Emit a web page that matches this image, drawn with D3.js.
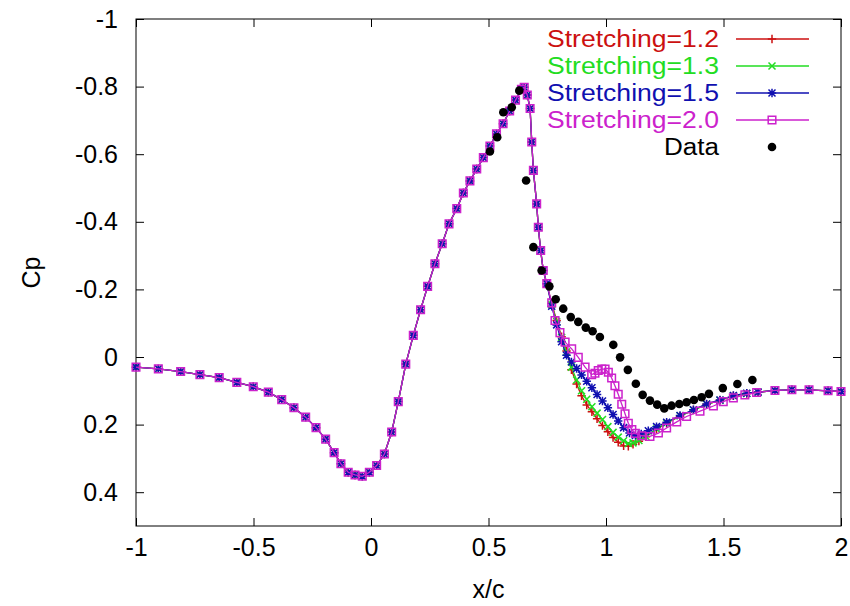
<!DOCTYPE html>
<html><head><meta charset="utf-8">
<script src="https://cdn.jsdelivr.net/npm/d3@7"></script>
<style>body{margin:0;background:#fff}svg{display:block}</style>
</head><body><svg id="c" width="850" height="606"></svg>
<script>
// ---- data ----
const xTicks = [-1, -0.5, 0, 0.5, 1, 1.5, 2];
const yTicks = [-1, -0.8, -0.6, -0.4, -0.2, 0, 0.2, 0.4];
const seriesNames = ["Stretching=1.2", "Stretching=1.3", "Stretching=1.5", "Stretching=2.0"];
// shared part of all four computed curves (x/c, Cp)
const commonPart = [[-1.0,0.030],[-0.905,0.035],[-0.810,0.043],[-0.728,0.052],[-0.646,0.061],[-0.571,0.075],[-0.501,0.088],[-0.437,0.104],[-0.380,0.126],[-0.328,0.150],[-0.278,0.178],[-0.234,0.209],[-0.193,0.243],[-0.157,0.283],[-0.128,0.316],[-0.097,0.341],[-0.068,0.349],[-0.037,0.353],[-0.007,0.341],[0.024,0.321],[0.057,0.287],[0.088,0.222],[0.116,0.132],[0.148,0.021],[0.180,-0.064],[0.211,-0.140],[0.241,-0.209],[0.272,-0.276],[0.303,-0.335],[0.332,-0.394],[0.365,-0.439],[0.393,-0.485],[0.421,-0.521],[0.450,-0.556],[0.478,-0.590],[0.506,-0.624],[0.534,-0.660],[0.562,-0.690],[0.590,-0.728],[0.615,-0.760],[0.640,-0.792],[0.652,-0.798],[0.665,-0.775],[0.677,-0.735],[0.684,-0.636],[0.691,-0.552],[0.705,-0.453],[0.712,-0.384],[0.722,-0.315],[0.733,-0.256],[0.748,-0.217]];
const s12Part = [[0.769,-0.158],[0.790,-0.108],[0.811,-0.060],[0.832,-0.018],[0.853,0.038],[0.875,0.080],[0.896,0.115],[0.918,0.142],[0.940,0.162],[0.962,0.183],[0.985,0.203],[1.008,0.221],[1.030,0.238],[1.052,0.252],[1.075,0.263],[1.095,0.264],[1.115,0.258],[1.140,0.249],[1.170,0.236],[1.215,0.214],[1.258,0.196],[1.315,0.175],[1.372,0.157],[1.428,0.140],[1.485,0.128],[1.542,0.115],[1.599,0.108],[1.647,0.104]];
const s13Part = [[0.769,-0.155],[0.790,-0.105],[0.811,-0.058],[0.832,-0.015],[0.853,0.030],[0.875,0.068],[0.896,0.100],[0.918,0.125],[0.940,0.147],[0.962,0.166],[0.985,0.185],[1.008,0.206],[1.030,0.223],[1.052,0.237],[1.075,0.248],[1.095,0.256],[1.115,0.254],[1.140,0.247],[1.170,0.235],[1.215,0.213],[1.258,0.195],[1.315,0.174],[1.372,0.157],[1.428,0.140],[1.485,0.128],[1.542,0.115],[1.599,0.108],[1.647,0.104]];
const s15Part = [[0.769,-0.150],[0.790,-0.095],[0.811,-0.045],[0.832,-0.005],[0.853,0.015],[0.875,0.034],[0.896,0.053],[0.918,0.072],[0.940,0.091],[0.962,0.111],[0.985,0.130],[1.008,0.150],[1.030,0.170],[1.052,0.189],[1.075,0.209],[1.100,0.225],[1.125,0.232],[1.150,0.228],[1.180,0.218],[1.215,0.206],[1.258,0.193],[1.315,0.173],[1.372,0.156],[1.428,0.139],[1.485,0.127],[1.542,0.114],[1.599,0.107],[1.647,0.104]];
const s20Part = [[0.769,-0.160],[0.783,-0.108],[0.804,-0.072],[0.826,-0.044],[0.854,-0.024],[0.882,0.001],[0.911,0.030],[0.939,0.052],[0.953,0.048],[0.967,0.040],[0.982,0.036],[0.996,0.036],[1.010,0.045],[1.024,0.062],[1.038,0.085],[1.052,0.110],[1.067,0.140],[1.081,0.168],[1.095,0.196],[1.110,0.215],[1.125,0.226],[1.152,0.233],[1.187,0.235],[1.223,0.225],[1.258,0.210],[1.301,0.192],[1.343,0.176],[1.400,0.160],[1.457,0.145],[1.499,0.132],[1.542,0.121],[1.591,0.112],[1.641,0.105]];
const farTail = [[1.719,0.099],[1.791,0.097],[1.864,0.097],[1.945,0.100],[2.0,0.102]];
const expData = [[0.506,-0.608],[0.537,-0.650],[0.563,-0.724],[0.599,-0.739],[0.631,-0.788],[0.660,-0.522],[0.691,-0.325],[0.726,-0.256],[0.759,-0.209],[0.786,-0.171],[0.818,-0.143],[0.850,-0.118],[0.882,-0.104],[0.914,-0.087],[0.943,-0.076],[0.974,-0.059],[1.031,-0.036],[1.060,0.001],[1.093,0.038],[1.127,0.079],[1.156,0.112],[1.187,0.129],[1.218,0.141],[1.248,0.152],[1.279,0.144],[1.312,0.139],[1.343,0.134],[1.374,0.127],[1.407,0.119],[1.438,0.109],[1.497,0.092],[1.559,0.080],[1.623,0.068]];

// ---- styles ----
const colors = ["#cc1010", "#22dd22", "#1010b0", "#cc22cc"];
const markerShapes = ["plus", "cross", "star", "square"];
const FONT = "'Liberation Sans', Arial, sans-serif";

const series = [s12Part, s13Part, s15Part, s20Part].map((p, i) => ({
  name: seriesNames[i], color: colors[i], shape: markerShapes[i],
  values: commonPart.concat(p, farTail)
}));

const svg = d3.select("#c");
const L = 136, R = 841, T = 19, B = 526;
const x = d3.scaleLinear().domain([-1, 2]).range([L, R]);
const y = d3.scaleLinear().domain([-1, 0.5]).range([T, B]);
const fmt = d => String(d);

function markerPath(shape) {
  const a = 4.2, b = 3.5;
  switch (shape) {
    case "plus": return `M${-a},0H${a}M0,${-a}V${a}`;
    case "cross": return `M${-b},${-b}L${b},${b}M${-b},${b}L${b},${-b}`;
    case "star": return `M${-a},0H${a}M0,${-a}V${a}M${-b},${-b}L${b},${b}M${-b},${b}L${b},${-b}`;
    case "square": return `M-3.8,-3.8H3.8V3.8H-3.8Z`;
  }
}

// axes
const gx = svg.append("g").attr("transform", `translate(0,${B})`)
  .call(d3.axisBottom(x).tickValues(xTicks).tickFormat(fmt).tickSize(-8).tickPadding(12));
const gxt = svg.append("g").attr("transform", `translate(0,${T})`)
  .call(d3.axisTop(x).tickValues(xTicks).tickFormat("").tickSize(-8));
const gy = svg.append("g").attr("transform", `translate(${L},0)`)
  .call(d3.axisLeft(y).tickValues(yTicks).tickFormat(fmt).tickSize(-8).tickPadding(18));
const gyr = svg.append("g").attr("transform", `translate(${R},0)`)
  .call(d3.axisRight(y).tickValues(yTicks).tickFormat("").tickSize(-8));
[gx, gxt, gy, gyr].forEach(g => {
  g.select(".domain").remove();
  g.selectAll("line").attr("stroke", "#000").attr("stroke-width", 1);
  g.selectAll("text").attr("font-family", FONT).attr("font-size", 25).attr("fill", "#000");
});
gx.selectAll("text").attr("dy", "0.71em");

// frame
svg.append("rect").attr("x", L).attr("y", T).attr("width", R - L).attr("height", B - T)
  .attr("fill", "none").attr("stroke", "#000").attr("stroke-width", 1);

// axis titles
svg.append("text").attr("x", (L + R) / 2).attr("y", 598).attr("text-anchor", "middle")
  .attr("font-family", FONT).attr("font-size", 25).text("x/c");
svg.append("text").attr("transform", `translate(40,${(T + B) / 2}) rotate(-90)`)
  .attr("text-anchor", "middle").attr("font-family", FONT).attr("font-size", 25).text("Cp");

const plot = svg.append("g");
const line = d3.line().x(d => x(d[0])).y(d => y(d[1]));

series.forEach(s => {
  const g = plot.append("g");
  g.append("path").attr("d", line(s.values)).attr("fill", "none")
    .attr("stroke", s.color).attr("stroke-width", 1.3);
  g.selectAll("path.m").data(s.values).join("path").attr("class", "m")
    .attr("transform", d => `translate(${x(d[0])},${y(d[1])})`)
    .attr("d", markerPath(s.shape)).attr("fill", "none")
    .attr("stroke", s.color).attr("stroke-width", 1.5);
});

plot.append("g").selectAll("circle").data(expData).join("circle")
  .attr("cx", d => x(d[0])).attr("cy", d => y(d[1])).attr("r", 4.3).attr("fill", "#000");

// legend
const legY = [39, 66, 93, 120, 147];
const lg = svg.append("g");
series.forEach((s, i) => {
  lg.append("text").attr("x", 719).attr("y", legY[i]).attr("dy", "0.35em")
    .attr("text-anchor", "end").attr("font-family", FONT).attr("font-size", 23)
    .attr("textLength", 172).attr("lengthAdjust", "spacingAndGlyphs")
    .attr("fill", s.color).text(s.name);
  lg.append("line").attr("x1", 736).attr("x2", 809).attr("y1", legY[i]).attr("y2", legY[i])
    .attr("stroke", s.color).attr("stroke-width", 1.3);
  lg.append("path").attr("transform", `translate(772,${legY[i]})`).attr("d", markerPath(s.shape))
    .attr("fill", "none").attr("stroke", s.color).attr("stroke-width", 1.5);
});
lg.append("text").attr("x", 719).attr("y", legY[4]).attr("dy", "0.35em")
  .attr("text-anchor", "end").attr("font-family", FONT).attr("font-size", 23)
  .attr("textLength", 55).attr("lengthAdjust", "spacingAndGlyphs")
  .attr("fill", "#000").text("Data");
lg.append("circle").attr("cx", 772).attr("cy", legY[4]).attr("r", 4.3).attr("fill", "#000");
</script></body></html>
